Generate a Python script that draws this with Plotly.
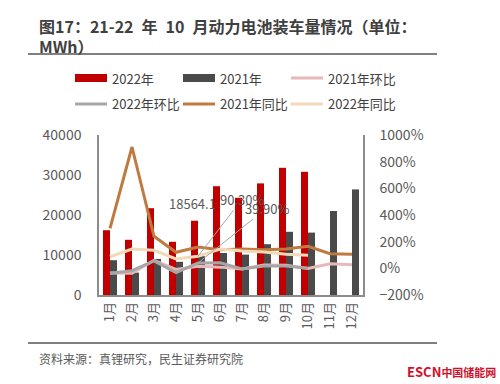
import plotly.graph_objects as go

months = ['1月', '2月', '3月', '4月', '5月', '6月', '7月', '8月', '9月', '10月', '11月', '12月']
vol_2022 = [16200, 13800, 21700, 13300, 18564, 27200, 24300, 27900, 31800, 30800, None, None]
vol_2021 = [8700, 5600, 9000, 8300, 9700, 10500, 10100, 12700, 15800, 15600, 21000, 26400]
mom_2021 = [-35, -37, 60, -8, 16, 9, -5, 25, 24, -1, 35, 26]
mom_2022 = [-37, -18, 56, -32, 39.9, 42, -5, 18, 18, 0, None, None]
yoy_2021 = [300, 910, 240, 120, 160, 140, 145, 140, 145, 165, 110, 105]
yoy_2022 = [87, 145, 135, 70, 90.3, 145, 130, 122, 105, 98, None, None]

title_line1 = "<b>图17：21-22\u2002年\u200210\u2002月动力电池装车量情况（单位：</b>"
title_line2 = "<b>MWh）</b>"
source_text = "资料来源：真锂研究，民生证券研究院"

FONT = "Noto Sans CJK SC"
C_RED = "#C00000"
C_DARK = "#4A4A4A"
C_PINK = "#E6B9B8"
C_GREY = "#A6A6A6"
C_BROWN = "#BF7A3F"
C_CREAM = "#F2D9B8"
TXT = "#595959"

fig = go.Figure()
fig.add_trace(go.Bar(x=months, y=vol_2022, name="2022年", marker_color=C_RED, marker_line_width=0))
fig.add_trace(go.Bar(x=months, y=vol_2021, name="2021年", marker_color=C_DARK, marker_line_width=0))
line_series = [
    ("2021年环比", mom_2021, C_PINK),
    ("2022年环比", mom_2022, C_GREY),
    ("2021年同比", yoy_2021, C_BROWN),
    ("2022年同比", yoy_2022, C_CREAM),
]
for name, vals, col in line_series:
    fig.add_trace(go.Scatter(x=months, y=vals, name=name, yaxis="y2", mode="lines",
                             line=dict(color=col, width=3)))

# plot area in pixels: x 99..363, y 135..295
L, R, T, B = 99, 363, 135, 295
def px(x):
    return (x - L) / (R - L)
def py(y):
    return (B - y) / (B - T)

fig.update_layout(
    width=500, height=384,
    margin=dict(l=L, r=500 - R, t=T, b=384 - B),
    paper_bgcolor="white", plot_bgcolor="white",
    font=dict(family=FONT, color=TXT),
    showlegend=False,
    barmode="group", bargap=0.364, bargroupgap=0,
    xaxis=dict(type="category", showline=True, linecolor="#8C8C8C", linewidth=1.5,
               tickangle=-90, tickfont=dict(size=13, color=TXT), ticks="", showgrid=False),
    yaxis=dict(range=[0, 40000], dtick=10000, tickformat="d", showgrid=False, zeroline=False,
               showline=True, linecolor="#8C8C8C", linewidth=1.5, ticks="",
               tickfont=dict(size=14, color=TXT), ticklabelstandoff=13),
    yaxis2=dict(range=[-200, 1000], dtick=200, ticksuffix="%", overlaying="y", side="right",
                showgrid=False, zeroline=False, showline=True, linecolor="#8C8C8C",
                linewidth=1.5, ticks="", tickfont=dict(size=14, color=TXT), ticklabelstandoff=12),
)

shapes = []
annos = []
# title + separators
for txt, yy in ((title_line1, 26), (title_line2, 46)):
    annos.append(dict(xref="paper", yref="paper", x=px(37), y=py(yy), xanchor="left", yanchor="middle",
                      text=txt, showarrow=False, align="left",
                      font=dict(size=16, color="#404040", family=FONT)))
for yy in (54, 343):
    shapes.append(dict(type="line", xref="paper", yref="paper", x0=px(28), x1=px(437),
                       y0=py(yy), y1=py(yy), line=dict(color="#7F7F7F", width=2)))
annos.append(dict(xref="paper", yref="paper", x=px(37), y=py(358), xanchor="left", yanchor="middle",
                  text=source_text, showarrow=False, font=dict(size=12, color=TXT, family=FONT)))
annos.append(dict(xref="paper", yref="paper", x=px(405), y=py(371), xanchor="left", yanchor="middle",
                  text="<b><span style='font-size:13px'>ESCN</span>中国储能网</b>", showarrow=False,
                  font=dict(size=11, color="#D0112B", family=FONT)))

# manual legend
legend_items = [
    ("2022年", C_RED, "bar", 75, 78),
    ("2021年", C_DARK, "bar", 183, 78),
    ("2021年环比", C_PINK, "line", 291, 78),
    ("2022年环比", C_GREY, "line", 75, 104),
    ("2021年同比", C_BROWN, "line", 183, 104),
    ("2022年同比", C_CREAM, "line", 291, 104),
]
for name, col, kind, x0, yc in legend_items:
    if kind == "bar":
        shapes.append(dict(type="rect", xref="paper", yref="paper", x0=px(x0), x1=px(x0 + 32),
                           y0=py(yc + 4), y1=py(yc - 4), fillcolor=col, line=dict(width=0)))
    else:
        shapes.append(dict(type="line", xref="paper", yref="paper", x0=px(x0), x1=px(x0 + 32),
                           y0=py(yc), y1=py(yc), line=dict(color=col, width=3)))
    annos.append(dict(xref="paper", yref="paper", x=px(x0 + 35), y=py(yc), xanchor="left",
                      yanchor="middle", text=name, showarrow=False,
                      font=dict(size=13, color="#404040", family=FONT)))

# data labels with leader lines
annos.append(dict(xref="paper", yref="paper", x=px(192), y=py(203), xanchor="center", yanchor="middle",
                  text=f"{vol_2022[4]}.1", showarrow=False, font=dict(size=13, color=TXT, family=FONT)))
annos.append(dict(xref="x", yref="y2", x=months[4], y=yoy_2022[4], ax=44, ay=-57,
                  text=f"{yoy_2022[4]:.2f}%", showarrow=True, arrowhead=0, arrowwidth=1,
                  arrowcolor="#A6A6A6", standoff=0, font=dict(size=13, color=TXT, family=FONT)))
annos.append(dict(xref="x", yref="y2", x=months[4], y=mom_2022[4], ax=69, ay=-55,
                  text=f"{mom_2022[4]:.2f}%", showarrow=True, arrowhead=0, arrowwidth=1,
                  arrowcolor="#A6A6A6", standoff=0, font=dict(size=13, color=TXT, family=FONT)))

fig.update_layout(shapes=shapes, annotations=annos)
fig.write_html("out.html", config={"displayModeBar": False},
               post_script="document.body.style.margin='0';document.body.style.overflow='hidden';")
